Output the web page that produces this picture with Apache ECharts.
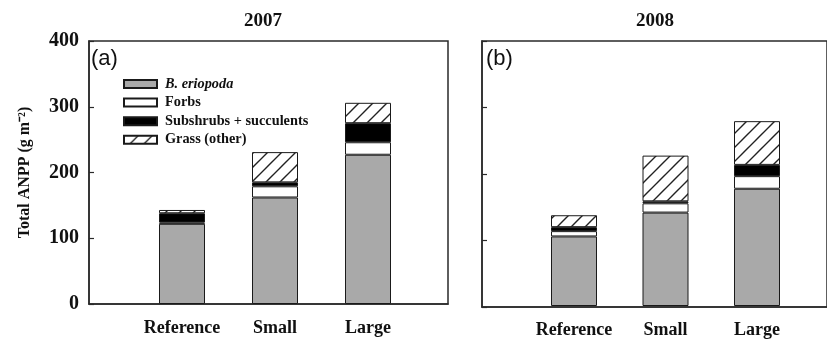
<!DOCTYPE html>
<html><head><meta charset="utf-8">
<script src="https://cdn.jsdelivr.net/npm/echarts@6/dist/echarts.min.js"></script>
<style>html,body{margin:0;padding:0;background:#fff}#c{width:827px;height:339px}</style>
</head><body><div id="c"></div>
<script>
// ---- data ----
const categories = ['Reference', 'Small', 'Large'];
const years = ['2007', '2008'];
const panelLabels = ['(a)', '(b)'];
const yTicks = [0, 100, 200, 300, 400];
const seriesNames = ['B. eriopoda', 'Forbs', 'Subshrubs + succulents', 'Grass (other)'];
const eriopoda2007 = [122, 162, 227];
const forbs2007 = [2, 17, 19];
const subshrubs2007 = [14, 6, 29];
const grass2007 = [5, 46, 31];
const eriopoda2008 = [105, 141, 177];
const forbs2008 = [8, 14, 19];
const subshrubs2008 = [6, 3, 17];
const grass2008 = [18, 69, 66];

const panels = [
  [eriopoda2007, forbs2007, subshrubs2007, grass2007],
  [eriopoda2008, forbs2008, subshrubs2008, grass2008]
];

function hatchCanvas() {
  const s = 14;
  const c = document.createElement('canvas');
  c.width = s; c.height = s;
  const g = c.getContext('2d');
  g.fillStyle = '#fff'; g.fillRect(0, 0, s, s);
  g.strokeStyle = '#222'; g.lineWidth = 1.4;
  g.beginPath();
  g.moveTo(-2, s + 2); g.lineTo(s + 2, -2);
  g.moveTo(-s, s); g.lineTo(s, -s);
  g.moveTo(0, 2 * s); g.lineTo(2 * s, 0);
  g.stroke();
  return c;
}
const hatch = { image: hatchCanvas(), repeat: 'repeat' };
const fills = ['#a9a9a9', '#ffffff', '#000000', hatch];

const serif = 'Liberation Serif';
const lineCol = '#2a2a2a';
const yMin = yTicks[0], yMax = yTicks[yTicks.length - 1], yStep = yTicks[1] - yTicks[0];

const frames = [
  { left: 89, top: 41, width: 359, height: 263 },
  { left: 482, top: 41, width: 359, height: 266 }
];
const barGrids = [
  { left: 135.5, top: 41, width: 279, height: 263 },
  { left: 528.25, top: 41, width: 274.5, height: 266 }
];

const grid = [], xAxis = [], yAxis = [], series = [];
for (let p = 0; p < 2; p++) {
  grid.push(Object.assign({ show: true, borderColor: lineCol, borderWidth: 1.5, backgroundColor: 'transparent' }, frames[p]));
  grid.push(Object.assign({ show: false }, barGrids[p]));
  const fi = 2 * p, bi = 2 * p + 1;
  xAxis.push({ gridIndex: fi, type: 'value', min: 0, max: 1,
    axisLine: { show: true, lineStyle: { color: lineCol, width: 1.5 } },
    axisTick: { show: false }, axisLabel: { show: false }, splitLine: { show: false } });
  xAxis.push({ gridIndex: bi, type: 'category', data: categories,
    axisLine: { show: false }, axisTick: { show: false }, splitLine: { show: false },
    axisLabel: { interval: 0, margin: 15, color: '#111', fontFamily: serif, fontWeight: 'bold', fontSize: 18 } });
  yAxis.push({ gridIndex: fi, type: 'value', min: yMin, max: yMax, interval: yStep,
    axisLine: { show: true, lineStyle: { color: lineCol, width: 1.5 } },
    axisTick: { show: true, inside: true, length: 5, lineStyle: { color: lineCol, width: 1.2 } },
    splitLine: { show: false },
    axisLabel: { show: p === 0, margin: 10, color: '#111', fontFamily: serif, fontWeight: 'bold', fontSize: 20 },
    name: p === 0 ? 'Total ANPP (g m\u207B\u00B2)' : '',
    nameLocation: 'middle', nameGap: 56, nameRotate: 90,
    nameTextStyle: { color: '#111', fontFamily: serif, fontWeight: 'bold', fontSize: 16 } });
  yAxis.push({ gridIndex: bi, type: 'value', min: yMin, max: yMax, interval: yStep, show: false });
  panels[p].forEach((vals, i) => {
    series.push({
      type: 'bar', name: seriesNames[i], xAxisIndex: bi, yAxisIndex: bi, stack: 'p' + p,
      barWidth: 46, data: vals, animation: false,
      itemStyle: { color: fills[i], borderColor: '#1a1a1a', borderWidth: 1 },
      emphasis: { disabled: true }
    });
  });
}

const chart = echarts.init(document.getElementById('c'), null, { renderer: 'canvas' });
chart.setOption({
  animation: false,
  backgroundColor: '#fff',
  grid, xAxis, yAxis, series,
  legend: {
    data: seriesNames, orient: 'vertical', left: 123, top: 77, padding: 0,
    itemWidth: 33, itemHeight: 8, itemGap: 4.6, icon: 'rect',
    selectedMode: false,
    formatter: n => n === seriesNames[0] ? '{i|' + n + '}' : '{b|' + n + '}',
    textStyle: {
      color: '#111', fontSize: 14, lineHeight: 14, padding: [0, 0, 0, 3],
      rich: {
        i: { fontFamily: serif, fontStyle: 'italic', fontWeight: 'bold', fontSize: 14.3, lineHeight: 14 },
        b: { fontFamily: serif, fontWeight: 'bold', fontSize: 14.3, lineHeight: 14 }
      }
    }
  },
  graphic: [
    { type: 'text', x: 263, y: 21, style: { text: years[0], align: 'center', verticalAlign: 'middle', fontFamily: serif, fontWeight: 'bold', fontSize: 19, fill: '#111' } },
    { type: 'text', x: 655, y: 21, style: { text: years[1], align: 'center', verticalAlign: 'middle', fontFamily: serif, fontWeight: 'bold', fontSize: 19, fill: '#111' } },
    { type: 'text', x: 91, y: 59, style: { text: panelLabels[0], align: 'left', verticalAlign: 'middle', fontFamily: 'Liberation Sans', fontSize: 22, fill: '#111' } },
    { type: 'text', x: 486, y: 59, style: { text: panelLabels[1], align: 'left', verticalAlign: 'middle', fontFamily: 'Liberation Sans', fontSize: 22, fill: '#111' } }
  ]
});
</script>
</body></html>
